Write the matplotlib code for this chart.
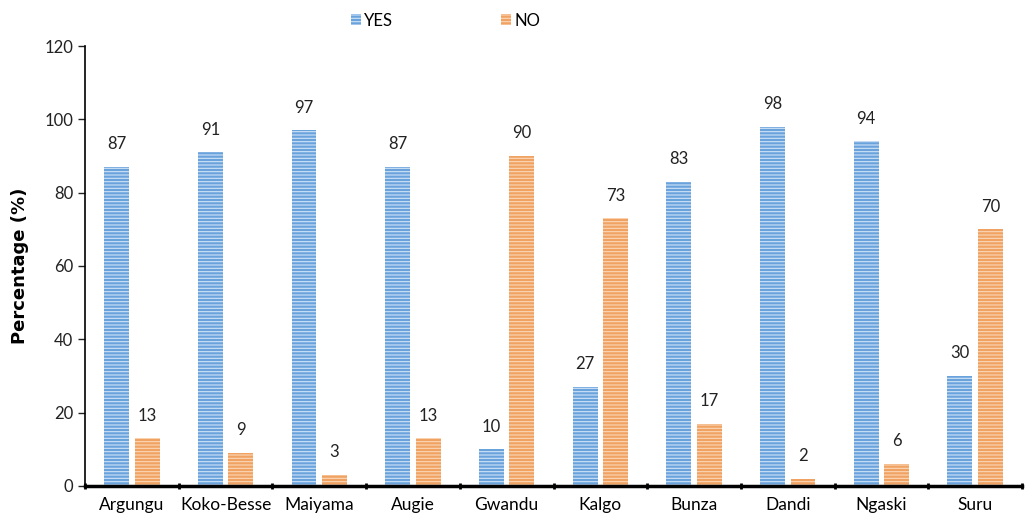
import numpy as np
import matplotlib.pyplot as plt

plt.rcParams['font.family'] = ['Lato', 'DejaVu Sans']
plt.rcParams['hatch.linewidth'] = 0.8

# survey results per LGA
lgas = ['Argungu', 'Koko-Besse', 'Maiyama', 'Augie', 'Gwandu',
        'Kalgo', 'Bunza', 'Dandi', 'Ngaski', 'Suru']
yes = [87, 91, 97, 87, 10, 27, 83, 98, 94, 30]
no = [13, 9, 3, 13, 90, 73, 17, 2, 6, 70]

fig = plt.figure(figsize=(10.25, 5.23), dpi=100)
ax = fig.add_axes([0.083, 0.071, 0.914, 0.841])

x = np.arange(len(lgas))
w = 0.265
gap = 0.03

b1 = ax.bar(x - w / 2 - gap, yes, w, color='#6aa3dc', edgecolor='#cfe3f7',
            linewidth=0, hatch='-----', label='YES')
b2 = ax.bar(x + w / 2 + gap, no, w, color='#f0a263', edgecolor='#fbd7b8',
            linewidth=0, hatch='-----', label='NO')

for bars, vals in ((b1, yes), (b2, no)):
    for rect, v in zip(bars, vals):
        ax.text(rect.get_x() + rect.get_width() / 2, v + 4, str(v),
                ha='center', va='bottom', fontsize=12, color='#222222')

ax.set_xlim(-0.5, len(lgas) - 0.5)
ax.set_ylim(0, 120)
ax.set_yticks(range(0, 121, 20))
ax.tick_params(axis='y', labelsize=12, length=5, width=1, colors='#222222')

# category labels centred, tick marks on the boundaries
ax.set_xticks(x)
ax.set_xticklabels(lgas, fontsize=12.5)
ax.tick_params(axis='x', length=0, pad=8)
ax.set_xticks(np.arange(-0.5, len(lgas)), minor=True)
ax.tick_params(axis='x', which='minor', length=5, width=2, direction='inout')

for s in ('top', 'right'):
    ax.spines[s].set_visible(False)
ax.spines['left'].set_linewidth(1.2)
ax.spines['bottom'].set_linewidth(2.5)

ax.set_ylabel('Percentage (%)', fontsize=13, fontweight='bold', labelpad=11,
              family='DejaVu Sans')

ax.legend(loc='upper center', bbox_to_anchor=(0.385, 1.11), ncol=2,
          frameon=False, fontsize=12, handlelength=0.6, handleheight=0.6,
          handletextpad=0.2, columnspacing=6.5)

fig.savefig('out.png', dpi=100)
